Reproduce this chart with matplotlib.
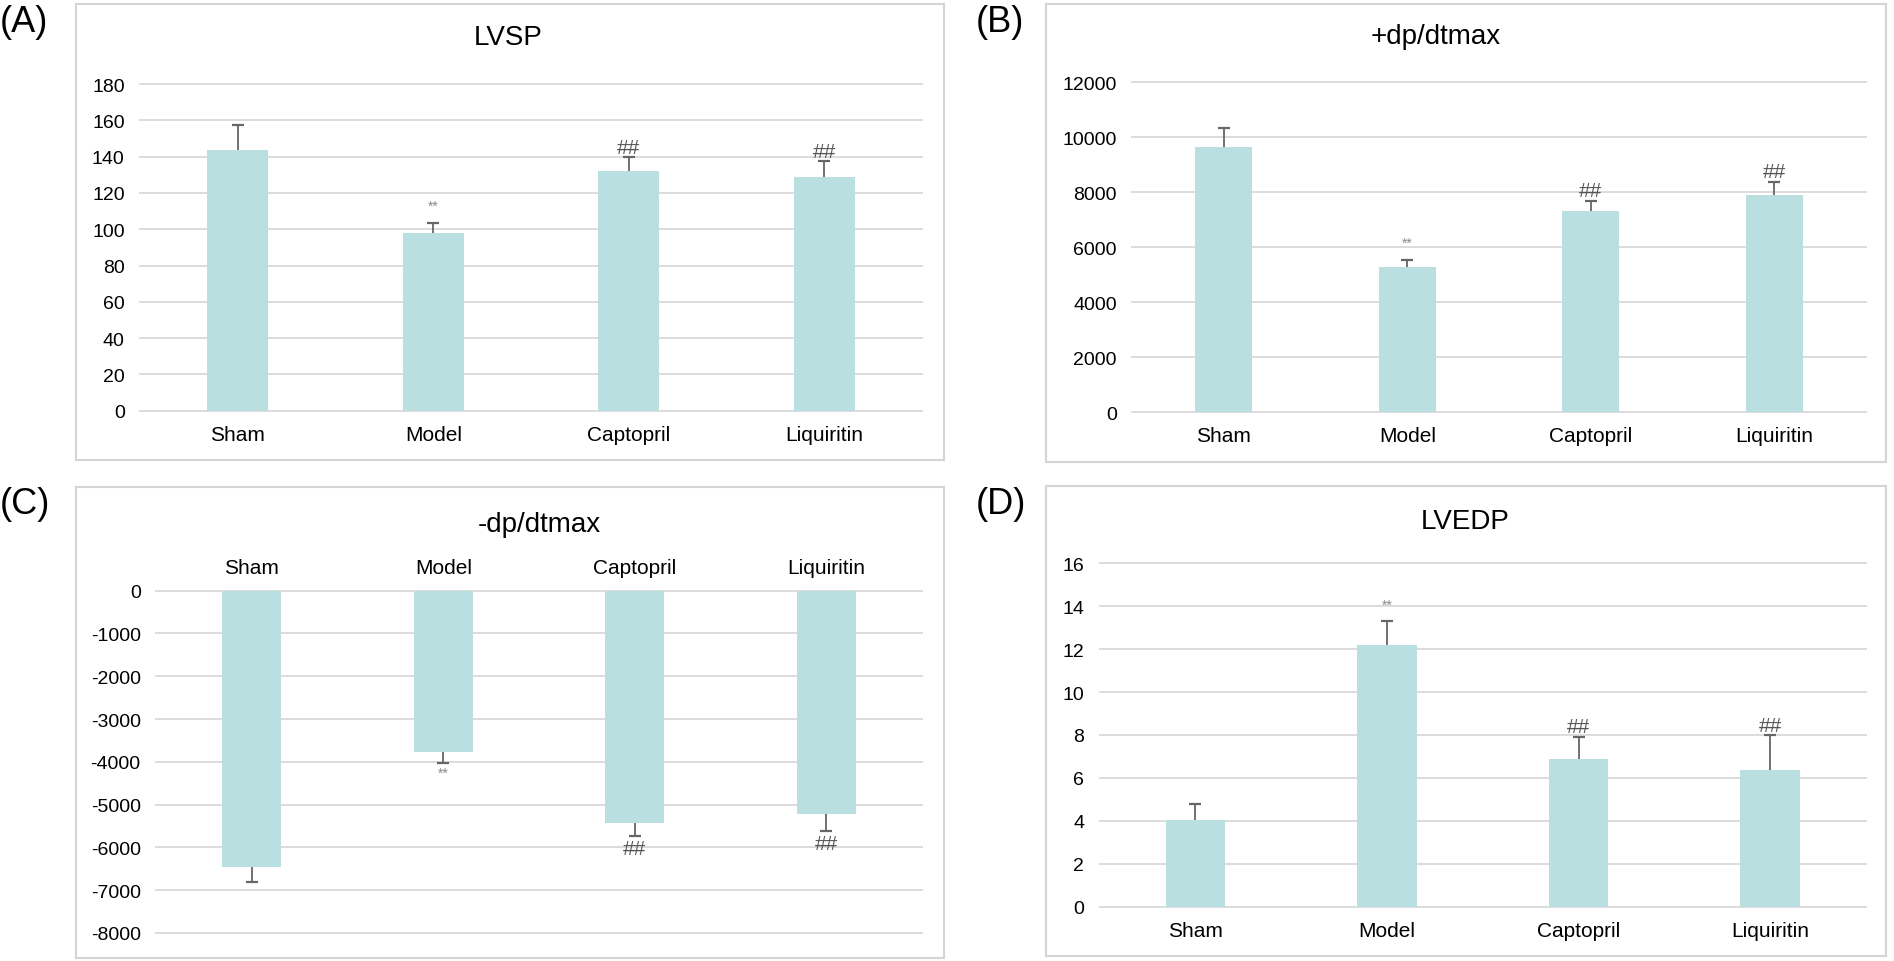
import matplotlib
matplotlib.use("Agg")
import matplotlib.pyplot as plt
from matplotlib.patches import Rectangle

plt.rcParams['font.family'] = ['Liberation Sans', 'DejaVu Sans']

W, H = 1894, 962

groups = ['Sham', 'Model', 'Captopril', 'Liquiritin']

lvsp = [143.6, 97.7, 132.1, 128.6]
lvsp_err = [13.6, 5.9, 7.5, 9.0]

dpdt_pos = [9660, 5285, 7335, 7905]
dpdt_pos_err = [665, 265, 360, 480]

dpdt_neg = [-6465, -3777, -5436, -5226]
dpdt_neg_err = [350, 250, 305, 380]

lvedp = [4.05, 12.19, 6.86, 6.38]
lvedp_err = [0.73, 1.10, 1.06, 1.60]

marks = ['', '**', '##', '##']

bar_color = '#b9dfe1'
err_color = '#666666'
grid_color = '#d9d9d9'

fig = plt.figure(figsize=(W / 100, H / 100), dpi=100)


def px_axes(x0, y_top, x1, y_bot):
    # pixel box -> figure fraction axes
    return fig.add_axes([x0 / W, 1 - y_bot / H, (x1 - x0) / W, (y_bot - y_top) / H])


def panel_box(x0, y0, x1, y1):
    fig.patches.append(Rectangle((x0 / W, 1 - y1 / H), (x1 - x0) / W, (y1 - y0) / H,
                                 transform=fig.transFigure, fill=False,
                                 edgecolor='#d4d4d4', linewidth=1.5))


def draw(ax, values, errs, ticks, negative=False):
    x = range(len(groups))
    # symmetric error bars drawn under the bars -> only the outer half shows
    ax.errorbar(x, values, yerr=errs, fmt='none', ecolor=err_color,
                elinewidth=1.3, capsize=4, capthick=1.6, zorder=1.5)
    ax.bar(x, values, width=0.31, color=bar_color, zorder=2)
    ax.set_xlim(-0.5, len(groups) - 0.5)
    ax.set_ylim(min(ticks), max(ticks))
    ax.set_yticks(ticks)
    ax.set_yticklabels([str(t) for t in ticks])
    ax.set_xticks(list(x))
    ax.set_xticklabels(groups)
    for t in ticks:
        ax.axhline(t, color=grid_color, linewidth=1.3, zorder=1, clip_on=False)
    for s in ax.spines.values():
        s.set_visible(False)
    ax.tick_params(axis='y', length=0, pad=11, labelsize=14)
    ax.tick_params(axis='x', length=0, pad=10, labelsize=15)
    for i, m in enumerate(marks):
        if not m:
            continue
        if negative:
            yv = values[i] - errs[i]
            off = -9 if m == '##' else -7
        else:
            yv = values[i] + errs[i]
            off = 7 if m == '##' else 12
        if m == '**':
            ax.annotate(m, (i, yv), xytext=(0, off), textcoords='offset points',
                        ha='center', va='center', fontsize=10, color='#8a8a8a', zorder=4)
        else:
            ax.annotate(m, (i, yv), xytext=(0, off), textcoords='offset points',
                        ha='center', va='center', fontsize=15, color='#555555', zorder=4)


# (A) LVSP
panel_box(76, 5, 944, 461)
axA = px_axes(140, 85, 922, 411.7)
draw(axA, lvsp, lvsp_err, list(range(0, 181, 20)))
fig.text(508 / W, 1 - 38 / H, 'LVSP', ha='center', va='center', fontsize=20)

# (B) +dp/dtmax
panel_box(1046, 5, 1886, 463)
axB = px_axes(1132, 83.3, 1866, 413.3)
draw(axB, dpdt_pos, dpdt_pos_err, list(range(0, 12001, 2000)))
fig.text(1436 / W, 1 - 37 / H, '+dp/dtmax', ha='center', va='center', fontsize=20)

# (C) -dp/dtmax
panel_box(76, 488, 944, 959)
axC = px_axes(156, 591.7, 922, 934)
draw(axC, dpdt_neg, dpdt_neg_err, list(range(-8000, 1, 1000)), negative=True)
axC.xaxis.tick_top()
axC.tick_params(axis='x', length=0, pad=10, labelsize=15)
fig.text(539 / W, 1 - 525 / H, '-dp/dtmax', ha='center', va='center', fontsize=20)

# (D) LVEDP
panel_box(1046, 487, 1886, 957)
axD = px_axes(1099.5, 564.3, 1866, 907.7)
draw(axD, lvedp, lvedp_err, list(range(0, 17, 2)))
fig.text(1465 / W, 1 - 522 / H, 'LVEDP', ha='center', va='center', fontsize=20)

for lab, xp, yp in [('(A)', 0, 22), ('(B)', 976, 22), ('(C)', 0, 504), ('(D)', 976, 504)]:
    fig.text(xp / W, 1 - yp / H, lab, ha='left', va='center', fontsize=26)

fig.savefig('out.png', dpi=100, facecolor='white')
